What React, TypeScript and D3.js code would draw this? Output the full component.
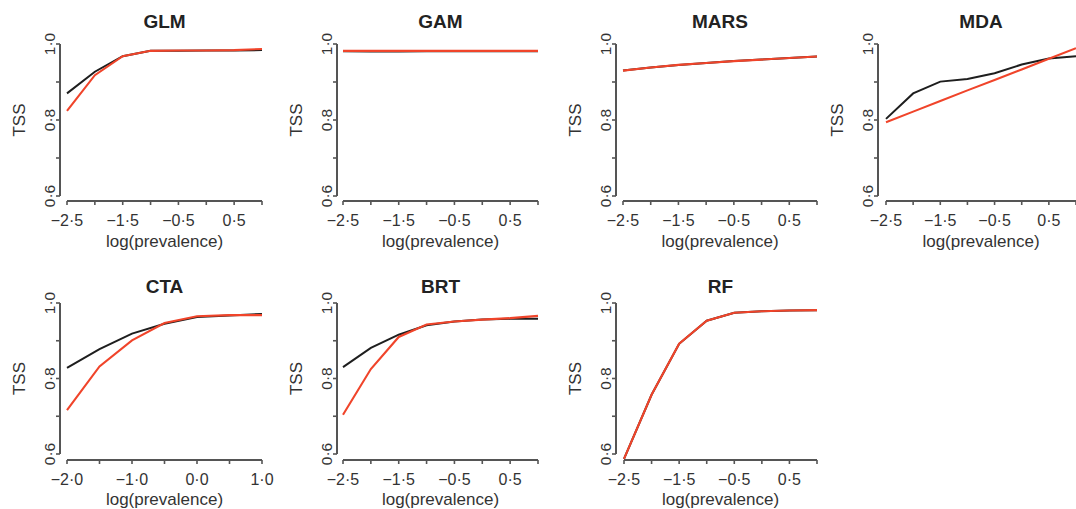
import React from "react";
import * as d3 from "d3";

const xs25 = [-2.5, -2.0, -1.5, -1.0, -0.5, 0.0, 0.5, 1.0];
const xs20 = [-2.0, -1.5, -1.0, -0.5, 0.0, 0.5, 1.0];

const glmBlack = [0.870, 0.927, 0.968, 0.982, 0.982, 0.983, 0.983, 0.984];
const glmRed = [0.824, 0.918, 0.968, 0.982, 0.983, 0.983, 0.984, 0.987];
const gamBlack = [0.981, 0.980, 0.980, 0.981, 0.981, 0.981, 0.981, 0.981];
const gamRed = [0.982, 0.982, 0.982, 0.982, 0.982, 0.982, 0.982, 0.982];
const marsBlack = [0.930, 0.938, 0.945, 0.950, 0.955, 0.959, 0.963, 0.967];
const marsRed = [0.930, 0.938, 0.945, 0.950, 0.955, 0.959, 0.963, 0.967];
const mdaBlack = [0.803, 0.870, 0.901, 0.908, 0.923, 0.946, 0.962, 0.968];
const mdaRed = [0.794, 0.822, 0.850, 0.878, 0.905, 0.933, 0.961, 0.989];
const ctaBlack = [0.828, 0.878, 0.919, 0.945, 0.963, 0.967, 0.971];
const ctaRed = [0.716, 0.832, 0.901, 0.947, 0.965, 0.968, 0.968];
const brtBlack = [0.830, 0.881, 0.916, 0.941, 0.951, 0.956, 0.958, 0.958];
const brtRed = [0.704, 0.825, 0.910, 0.943, 0.951, 0.956, 0.960, 0.966];
const rfBlack = [0.587, 0.757, 0.892, 0.953, 0.974, 0.978, 0.980, 0.981];
const rfRed = [0.587, 0.757, 0.892, 0.953, 0.974, 0.978, 0.980, 0.981];

const yTicks = [0.6, 0.7, 0.8, 0.9, 1.0];
const yTickLabels = ["0·6", "", "0·8", "", "1·0"];
const xTickLabels25 = ["−2·5", "", "−1·5", "", "−0·5", "", "0·5", ""];
const xTickLabels20 = ["−2·0", "", "−1·0", "", "0·0", "", "1·0"];

const RED = "#f0442a";
const BLACK = "#1e1e1e";
const AXIS = "#555";
const TEXT = "#333";
const FONT = "'Liberation Sans', Arial, sans-serif";

type PanelSpec = {
  title: string;
  xs: number[];
  xLabels: string[];
  black: number[];
  red: number[];
  yAxisX: number;
  xr: [number, number];
  row: number;
};

const panels: PanelSpec[] = [
  { title: "GLM", xs: xs25, xLabels: xTickLabels25, black: glmBlack, red: glmRed, yAxisX: 60, xr: [67, 262], row: 0 },
  { title: "GAM", xs: xs25, xLabels: xTickLabels25, black: gamBlack, red: gamRed, yAxisX: 337, xr: [343, 538], row: 0 },
  { title: "MARS", xs: xs25, xLabels: xTickLabels25, black: marsBlack, red: marsRed, yAxisX: 616, xr: [623, 817], row: 0 },
  { title: "MDA", xs: xs25, xLabels: xTickLabels25, black: mdaBlack, red: mdaRed, yAxisX: 878, xr: [886, 1076], row: 0 },
  { title: "CTA", xs: xs20, xLabels: xTickLabels20, black: ctaBlack, red: ctaRed, yAxisX: 60, xr: [67, 262], row: 1 },
  { title: "BRT", xs: xs25, xLabels: xTickLabels25, black: brtBlack, red: brtRed, yAxisX: 337, xr: [343, 538], row: 1 },
  { title: "RF", xs: xs25, xLabels: xTickLabels25, black: rfBlack, red: rfRed, yAxisX: 616, xr: [624, 817], row: 1 },
];

const rows = [
  { top: 44, bottom: 196, xAxisY: 201, titleY: 28, tickLabelY: 226, xLabelY: 247 },
  { top: 303, bottom: 454, xAxisY: 460, titleY: 293, tickLabelY: 485, xLabelY: 505 },
];

function Panel({ p }: { p: PanelSpec }) {
  const r = rows[p.row];
  const x = d3.scaleLinear().domain([p.xs[0], p.xs[p.xs.length - 1]]).range(p.xr);
  const y = d3.scaleLinear().domain([0.6, 1.0]).range([r.bottom, r.top]);
  const line = d3
    .line<number>()
    .x((_, i) => x(p.xs[i]))
    .y((d) => y(d));
  const cx = (p.xr[0] + p.xr[1]) / 2;
  const cy = (r.top + r.bottom) / 2;
  return (
    <g>
      <text x={cx} y={r.titleY} textAnchor="middle" fontFamily={FONT} fontWeight="bold" fontSize={19} fill="#222">
        {p.title}
      </text>
      <line x1={p.yAxisX} x2={p.yAxisX} y1={y(0.6)} y2={y(1.0)} stroke={AXIS} strokeWidth={2} />
      {yTicks.map((t, i) => (
        <g key={"y" + i}>
          <line x1={p.yAxisX - 4} x2={p.yAxisX} y1={y(t)} y2={y(t)} stroke={AXIS} strokeWidth={1.6} />
          {yTickLabels[i] && (
            <text
              transform={`translate(${p.yAxisX - 5},${y(t)}) rotate(-90)`}
              textAnchor="middle"
              fontFamily={FONT}
              fontSize={15.5}
              fill={TEXT}
            >
              {yTickLabels[i]}
            </text>
          )}
        </g>
      ))}
      <text
        transform={`translate(${p.yAxisX - 35},${cy}) rotate(-90)`}
        textAnchor="middle"
        fontFamily={FONT}
        fontSize={17}
        fill={TEXT}
      >
        TSS
      </text>
      <line x1={p.xr[0]} x2={p.xr[1]} y1={r.xAxisY} y2={r.xAxisY} stroke={AXIS} strokeWidth={2} />
      {p.xs.map((t, i) => (
        <g key={"x" + i}>
          <line x1={x(t)} x2={x(t)} y1={r.xAxisY} y2={r.xAxisY + 4} stroke={AXIS} strokeWidth={1.6} />
          {p.xLabels[i] && (
            <text x={x(t)} y={r.tickLabelY} textAnchor="middle" fontFamily={FONT} fontSize={16} fill={TEXT}>
              {p.xLabels[i]}
            </text>
          )}
        </g>
      ))}
      <text x={cx} y={r.xLabelY} textAnchor="middle" fontFamily={FONT} fontSize={17} fill={TEXT}>
        log(prevalence)
      </text>
      <path d={line(p.black) || ""} fill="none" stroke={BLACK} strokeWidth={2} />
      <path d={line(p.red) || ""} fill="none" stroke={RED} strokeWidth={2.1} />
    </g>
  );
}

export default function App() {
  return (
    <svg
      width={1076}
      height={509}
      style={{ position: "absolute", left: 0, top: 0, display: "block", background: "#fff" }}
    >
      {panels.map((p) => (
        <Panel key={p.title} p={p} />
      ))}
    </svg>
  );
}
